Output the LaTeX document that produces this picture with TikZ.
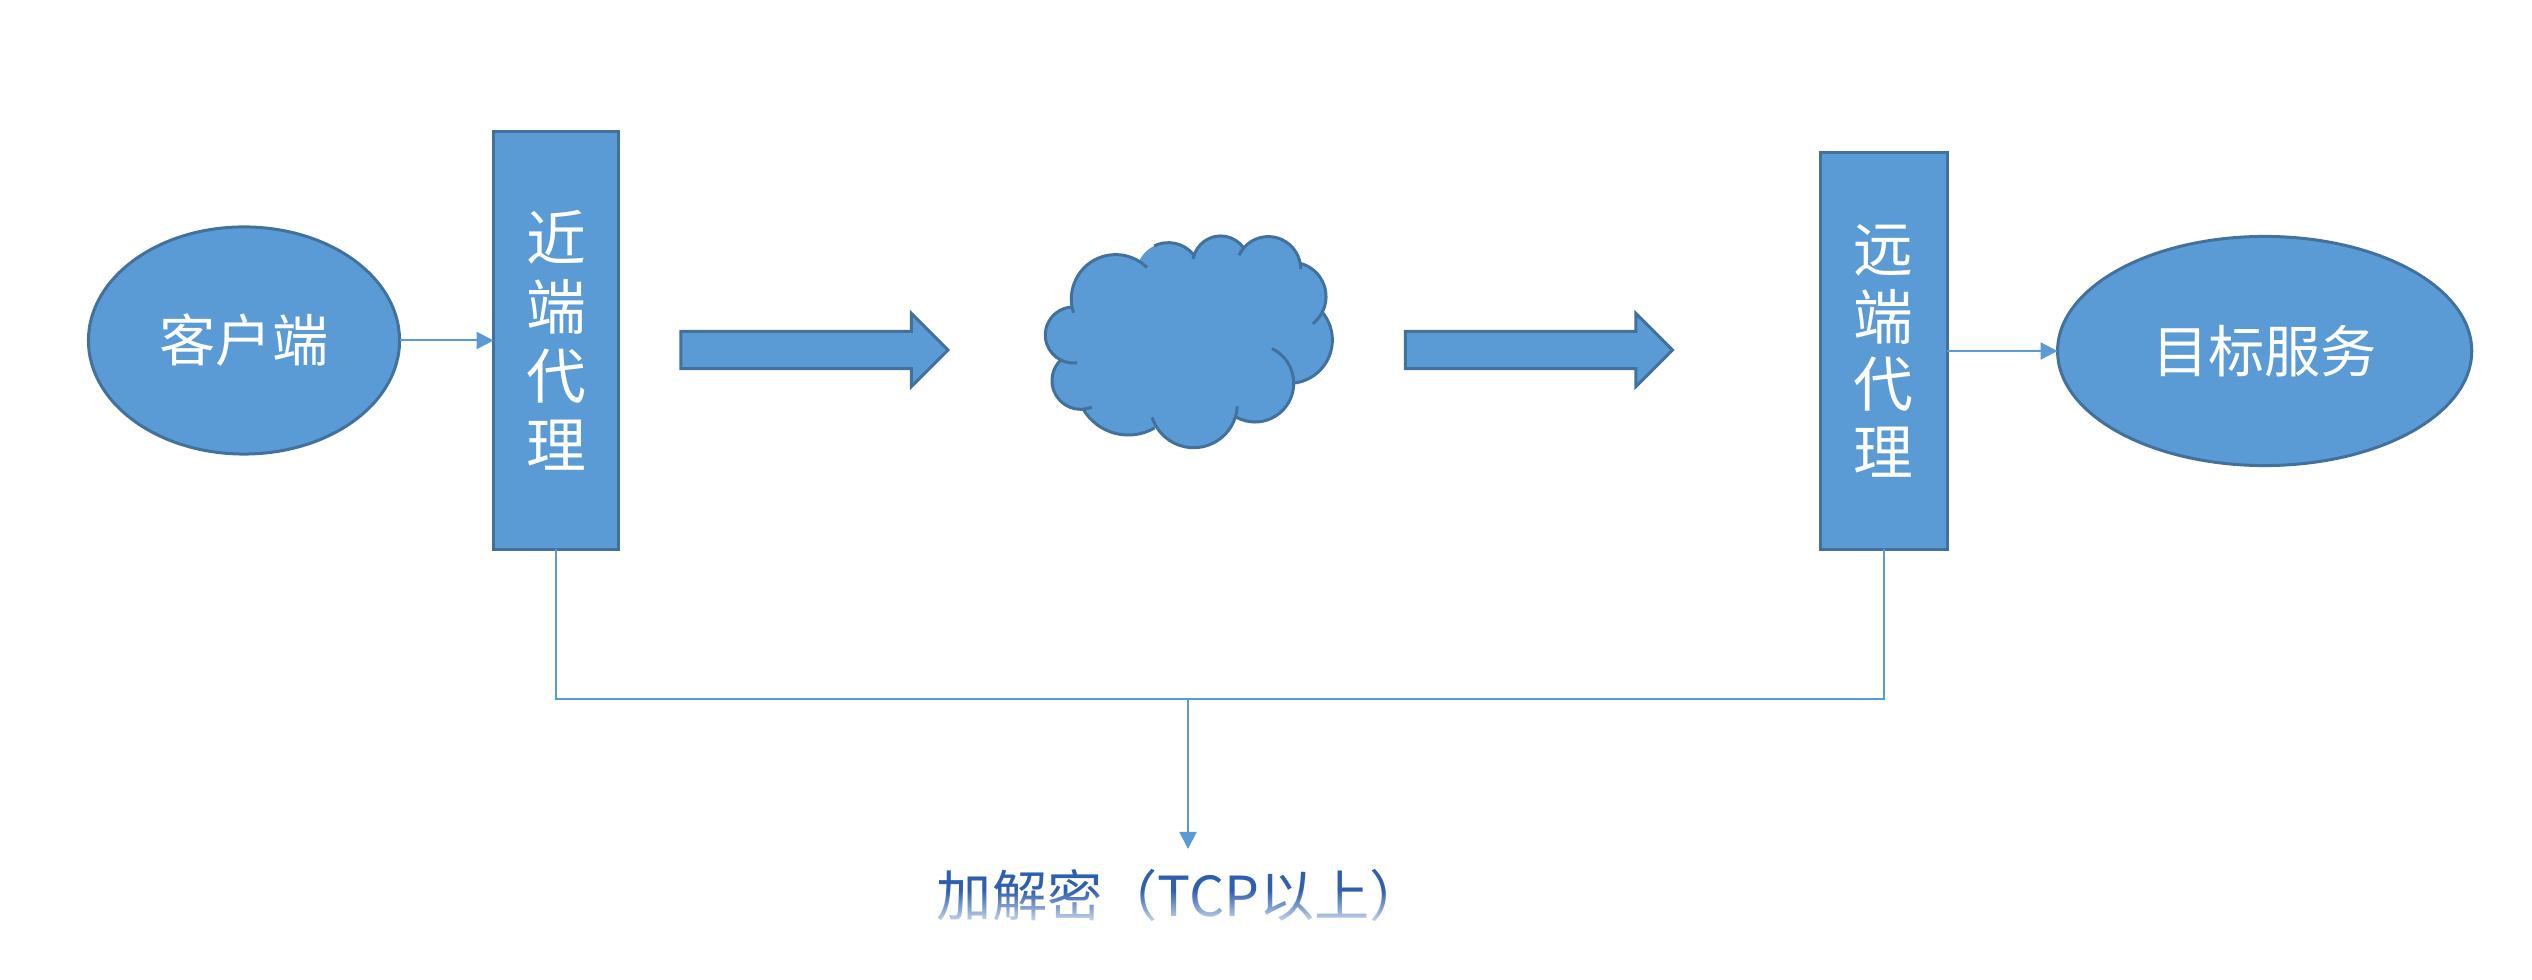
\documentclass[tikz,border=0pt]{standalone}
\usepackage{fontspec}
\setmainfont{Noto Sans CJK SC}
\usetikzlibrary{
  arrows.meta, % for the Triangle arrow tip
  fadings, % for the fade over the lower label
  positioning, % for relative positioning of the boxes
  shapes.arrows, % for the big block arrows
  shapes.geometric, % for the ellipses
}
\definecolor{boxfill}{HTML}{5B9BD5}
\definecolor{boxline}{HTML}{41719C}
\definecolor{labelblue}{HTML}{2F5FAF}
\tikzset{
  blob/.style={ % style for the end points
    ellipse,draw=boxline,fill=boxfill,
    line width=0.03cm,
    inner sep=0pt,outer sep=0pt,
    text=white,font=\fontsize{16}{20}\selectfont,
  },
  proxy/.style={ % style for the two upright proxy boxes
    rectangle,draw=boxline,fill=boxfill,
    line width=0.03cm,
    inner sep=0pt,outer sep=0pt,
    minimum width=1.25cm,
    align=center,text=white,
    font=\fontsize{17}{19.6}\selectfont,
  },
  flow/.style={ % style for the block arrows
    single arrow,draw=boxline,fill=boxfill,
    line width=0.03cm,
    inner sep=0pt,outer sep=0pt,
    text height=0.34cm,text depth=0pt,
    minimum width=0.70cm,minimum height=2.67cm,
    single arrow head extend=0.18cm,
  },
  conn/.style={ % style for the thin connections
    -{Triangle[length=0.17cm,width=0.17cm]},
    draw=boxfill,line width=0.02cm,
  },
  puff/.style={ % style for the arcs of the cloud
    draw=boxline,line width=0.03cm,
  },
}
\begin{document}
\begin{tikzpicture}[x=0.01cm,y=-0.01cm]
	\useasboundingbox (0,0) rectangle (2532,980);
	
	\node (client) [blob,minimum width=3.11cm,minimum height=2.27cm] at (244,340.5) {客户端};
	
	\node (near) [proxy,minimum height=4.17cm,right=0.94cm of client] {近\\端\\代\\理};
	
	\node (flowa) [flow,right=0.62cm of near,yshift=-0.095cm] {};
	
	\node (flowb) [flow,right=4.57cm of flowa] {};
	
	\node (far) [proxy,minimum width=1.27cm,minimum height=3.96cm,right=1.476cm of flowb,yshift=-0.01cm,font=\fontsize{17}{19.2}\selectfont] {远\\端\\代\\理};
	
	\node (target) [blob,minimum width=4.14cm,minimum height=2.29cm,right=1.103cm of far] {目标服务};
	
	\node (label) [text=labelblue,font=\fontsize{15.7}{20}\selectfont] at (1181,896) {加解密（TCP以上）};
	
	\coordinate (bus) at (1188,699);
	\coordinate (tip) at (1188,849);
	
	% pale the lower half of the label
	\fill[white,path fading=north] (label.west |- 0,890) rectangle (label.east |- 0,932);
	
	% the cloud, measured on a 3x grid
	\begin{scope}[shift={(950,200)},x=0.01cm/3,y=-0.01cm/3]
		\fill[boxfill] (370,405) -- (497,297) -- (655,225) -- (812,192) -- (955,207)
			-- (1025,290) -- (1017,420) -- (915,550) -- (731,612) -- (535,548) -- (392,542) -- cycle;
		\foreach \cx/\cy/\rr/\sa/\ea in {
			370/405/84/278/93, 497/297/133/198/45, 655/225/97/116/40,
			812/192/84/170/37, 955/207/97/155/0, 1025/290/103/77/-52,
			1017/420/130/41/-84, 915/550/116/64/-121, 731/612/131/-3/-162,
			535/548/157/-60/-149, 392/542/86/-67/-226}
		{
			\fill[boxfill] (\cx,\cy) circle[radius=\rr/300*1cm];
		}
		\foreach \cx/\cy/\rr/\sa/\ea in {
			370/405/84/278/93, 497/297/133/198/45, 655/225/97/116/40,
			812/192/84/170/37, 955/207/97/155/0, 1025/290/103/77/-52,
			1017/420/130/41/-84, 915/550/116/64/-121, 731/612/131/-3/-162,
			535/548/157/-60/-149, 392/542/86/-67/-226}
		{
			\draw[puff] (\cx,\cy) ++(\sa:\rr/300*1cm) arc[start angle=\sa,end angle=\ea,radius=\rr/300*1cm];
		}
	\end{scope}
	
	\draw[conn] (client) -- (near);
	\draw[conn] (far) -- (target);
	\draw[conn] (bus) -- (tip);
	\draw[draw=boxfill,line width=0.02cm] (near.south) |- (bus) -| (far.south);
\end{tikzpicture}
\end{document}
